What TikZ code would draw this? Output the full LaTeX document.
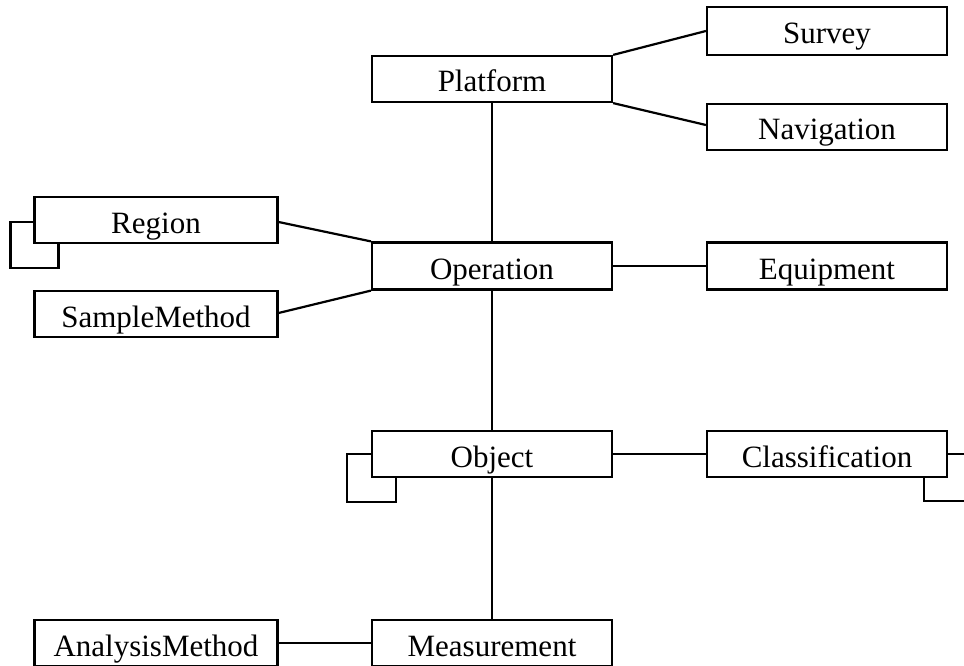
\documentclass[tikz,border=0pt]{standalone}
\usepackage{fontspec}
\setmainfont{Liberation Serif}
\begin{document}
\begin{tikzpicture}[x=1pt,y=-1pt,
  entity/.style={draw,line width=2.2pt,minimum width=240pt,minimum height=46pt,inner sep=0pt,text height=26pt,text depth=0pt,font=\fontsize{31}{36}\selectfont},
  link/.style={line width=2.2pt}]
\useasboundingbox (0,0) rectangle (964,666);
\node[entity] (platform) at (492,79) {Platform};
\node[entity,minimum height=48pt] (survey) at (827,31) {Survey};
\node[entity] (nav) at (827,127) {Navigation};
\node[entity,minimum width=243pt] (region) at (156,220) {Region};
\node[entity,minimum height=47pt] (operation) at (492,266) {Operation};
\node[entity,minimum height=47pt] (equipment) at (827,266) {Equipment};
\node[entity,minimum width=243pt] (sample) at (156,314) {SampleMethod};
\node[entity] (object) at (492,454) {Object};
\node[entity] (class) at (827,454) {Classification};
\node[entity,minimum width=243pt] (analysis) at (156,643) {AnalysisMethod};
\node[entity] (measure) at (492,643) {Measurement};
% coordinates for free ends
\coordinate (cr) at (975,454);
\coordinate (cb) at (975,501);
% connectors
\draw[link] (platform.north east) -- (survey.west);
\draw[link] (platform.south east) -- ([yshift=2pt]nav.west);
\draw[link] ([yshift=-2pt]region.east) -- (operation.north west);
\draw[link] ([yshift=1pt]sample.east) -- (operation.south west);
\draw[link] (operation.east) -- (equipment.west);
\draw[link] (platform.south) -- (operation.north);
\draw[link] (operation.south) -- (object.north);
\draw[link] (object.south) -- (measure.north);
\draw[link] (object.east) -- (class.west);
\draw[link] (analysis.east) -- (measure.west);
% self loops
\draw[link] ([yshift=-2pt]region.west) -| ([xshift=-23pt,yshift=-24pt]region.south west) -| ([xshift=25pt]region.south west);
\draw[link] (object.west) -| ([xshift=-24pt,yshift=-24pt]object.south west) -| ([xshift=25pt]object.south west);
\draw[link] (class.east) -- (cr);
\draw[link] ([xshift=-24pt]class.south east) |- (cb);
\end{tikzpicture}
\end{document}
